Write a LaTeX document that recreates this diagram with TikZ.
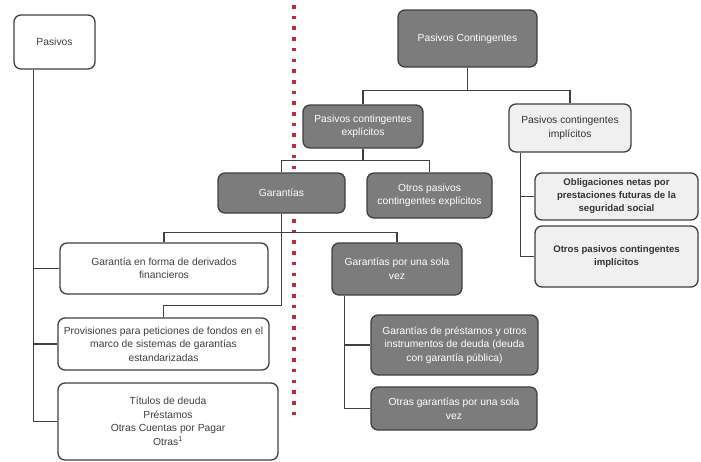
\documentclass[tikz,border=0pt]{standalone}
\usepackage{fontspec}
\setmainfont{Liberation Sans}
\usetikzlibrary{calc}
\definecolor{edge}{HTML}{404040}
\definecolor{darkfill}{HTML}{7C7C7C}
\definecolor{lightfill}{HTML}{F0F0F0}
\definecolor{dotred}{HTML}{C02C3C}
\begin{document}
\begin{tikzpicture}[x=1pt,y=-1pt,
  box/.style={draw=edge, line width=1.3pt, rounded corners=7pt, align=center,
    font=\fontsize{10.3}{13.5}\selectfont, inner sep=1.5pt},
  whitebox/.style={box, fill=white, text=black!75},
  darkbox/.style={box, fill=darkfill, text=white},
  lightbox/.style={box, fill=lightfill, text=black!80},
  link/.style={draw=edge, line width=1.3pt}]
\useasboundingbox (0,0) rectangle (701,461);
% red dotted separator
\coordinate (rt) at (294,5);
\coordinate (rb) at (294,420);
\draw[dotred, line width=3.6pt, dash pattern=on 3.6pt off 7.1pt] (rt) -- (rb);

% left side
\node[whitebox, minimum width=81pt, minimum height=54pt] (pas) at (54.5,42) {Pasivos};
\node[whitebox, minimum width=208pt, minimum height=51pt] (der) at (164,268.5) {Garantía en forma de derivados\\financieros};
\node[whitebox, minimum width=211pt, minimum height=52pt] (prov) at (163.5,344) {Provisiones para peticiones de fondos en el\\marco de sistemas de garantías\\estandarizadas};
\node[whitebox, minimum width=220pt, minimum height=77pt] (tit) at (168,421.5) {Títulos de deuda\\Préstamos\\Otras Cuentas por Pagar\\Otras\textsuperscript{1}};

% right side
\node[darkbox, minimum width=139pt, minimum height=57pt] (pc) at (467.5,38.5) {Pasivos Contingentes};
\node[darkbox, minimum width=120pt, minimum height=43pt] (pce) at (363,126.5) {Pasivos contingentes\\explícitos};
\node[lightbox, minimum width=122pt, minimum height=48pt] (pci) at (570,128) {Pasivos contingentes\\implícitos};
\node[darkbox, minimum width=127pt, minimum height=40pt] (gar) at (281.5,193) {Garantías};
\node[darkbox, minimum width=125pt, minimum height=45pt] (opce) at (429.5,195.5) {Otros pasivos\\contingentes explícitos};
\node[darkbox, minimum width=130pt, minimum height=52pt] (gos) at (397,269) {Garantías por una sola\\vez};
\node[darkbox, minimum width=167pt, minimum height=60pt] (gp) at (454.5,345) {Garantías de préstamos y otros\\instrumentos de deuda (deuda\\con garantía pública)};
\node[darkbox, minimum width=166pt, minimum height=43pt] (osv) at (454,408.5) {Otras garantías por una sola\\vez};
\node[lightbox, minimum width=163pt, minimum height=47pt, font=\fontsize{9.6}{13}\selectfont\bfseries] (obl) at (616.5,196.5) {Obligaciones netas por\\prestaciones futuras de la\\seguridad social};
\node[lightbox, minimum width=163pt, minimum height=61pt, font=\fontsize{9.6}{13}\selectfont\bfseries] (opci) at (616.5,256.5) {Otros pasivos contingentes\\implícitos};

% connectors: Pasivos
\coordinate (pt) at ([xshift=20pt]pas.south west);
\draw[link] (pt) |- (tit.west);
\draw[link] (pt |- der.west) -- (der.west);
\draw[link] (pt |- prov.west) -- (prov.west);

% Pasivos Contingentes
\draw[link] (pc.south) -- ++(0,23) coordinate (m1);
\draw[link] (pce.north) |- (m1) -| (pci.north);
% explicitos
\draw[link] (pce.south) -- ++(0,12) coordinate (m2);
\draw[link] (gar.north) |- (m2) -| (opce.north);
% garantias
\draw[link] (gar.south) -- ++(0,92) coordinate (m4);
\coordinate (m3) at ($(gar.south)+(0,19)$);
\draw[link] (der.north) |- (m3) -| (gos.north);
\draw[link] (prov.north) |- (m4);
% garantias por una sola vez
\coordinate (gt) at ([xshift=13pt]gos.south west);
\draw[link] (gt) |- (osv.west);
\draw[link] (gt |- gp.west) -- (gp.west);
% implicitos
\coordinate (it) at ([xshift=12pt]pci.south west);
\draw[link] (it) |- (opci.west);
\draw[link] (it |- obl.west) -- (obl.west);
\end{tikzpicture}
\end{document}
